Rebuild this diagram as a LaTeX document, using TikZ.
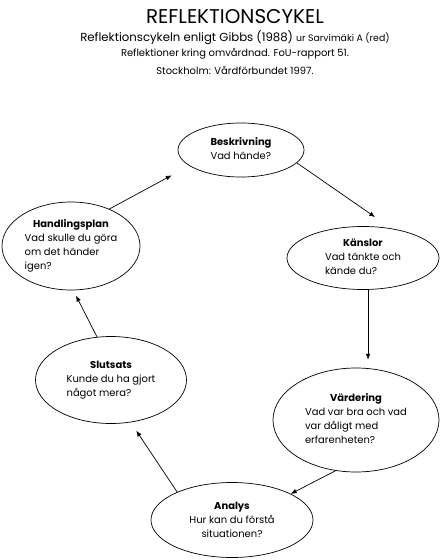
\documentclass[tikz,border=0pt]{standalone}
\usepackage{fontspec}
\setmainfont{Poppins}
\usepackage{tikz}
\usetikzlibrary{arrows.meta,shapes.geometric}

\newcommand{\stegtext}[2]{\begin{tabular}{@{}l@{}}\multicolumn{1}{@{}c@{}}{\textbf{#1}}\\#2\end{tabular}}

\begin{document}
\begin{tikzpicture}[x=0.03cm, y=-0.03cm, every node/.style={font=\fontsize{8.5}{12}\selectfont}, steg/.style={draw,ellipse,inner sep=0pt,line width=0.6pt}, arr/.style={-{Latex[length=5pt,width=4pt]},line width=0.6pt}]
\useasboundingbox (0,0) rectangle (440,560);
% rubrik
\node[font=\fontsize{17}{20}\selectfont] (titel) at (235,17) {REFLEKTIONSCYKEL};
\node[font=\fontsize{10}{12}\selectfont] (kalla) at (235,38) {Reflektionscykeln enligt Gibbs (1988) {\fontsize{8}{10}\selectfont ur Sarvimäki A (red)}};
\node[font=\fontsize{8.5}{10}\selectfont] (rapport) at (235,54) {Reflektioner kring omvårdnad. FoU-rapport 51.};
\node[font=\fontsize{8.5}{10}\selectfont] (ort) at (235,70) {Stockholm: Vårdförbundet 1997.};
% cykeln
\node[steg,minimum width=3.78cm,minimum height=1.62cm] (besk) at (241,150) {\stegtext{Beskrivning}{Vad hände?}};
\node[steg,minimum width=4.56cm,minimum height=1.89cm] (kansl) at (363,258) {\stegtext{Känslor}{Vad tänkte och\\kände du?}};
\node[steg,minimum width=4.98cm,minimum height=3.12cm] (vard) at (356,420) {\stegtext{Värdering}{Vad var bra och vad\\var dåligt med\\erfarenheten?}};
\node[steg,minimum width=4.86cm,minimum height=2.25cm,align=center] (analys) at (232,520) {\textbf{Analys}\\Hur kan du förstå\\situationen?};
\node[steg,minimum width=4.53cm,minimum height=2.61cm] (slut) at (111,380) {\stegtext{Slutsats}{Kunde du ha gjort\\något mera?}};
\node[steg,minimum width=4.14cm,minimum height=2.64cm] (hand) at (71,246) {\stegtext{Handlingsplan}{Vad skulle du göra\\om det händer\\igen?}};
% pilar
\draw[arr,shorten >=0.6cm] (besk.-13) -- (kansl.46);
\draw[arr,shorten >=0.24cm] (kansl.-81) -- (kansl.-81 |- vard.north);
\draw[arr] (vard.248) -- (analys.24);
\draw[arr,shorten >=0.3cm] (analys.153) -- (slut.-65);
\draw[arr,shorten >=0.18cm] (slut.108) -- (hand.-87);
\draw[arr,shorten >=0.6cm] (hand.44) -- (besk.197);
\end{tikzpicture}
\end{document}
